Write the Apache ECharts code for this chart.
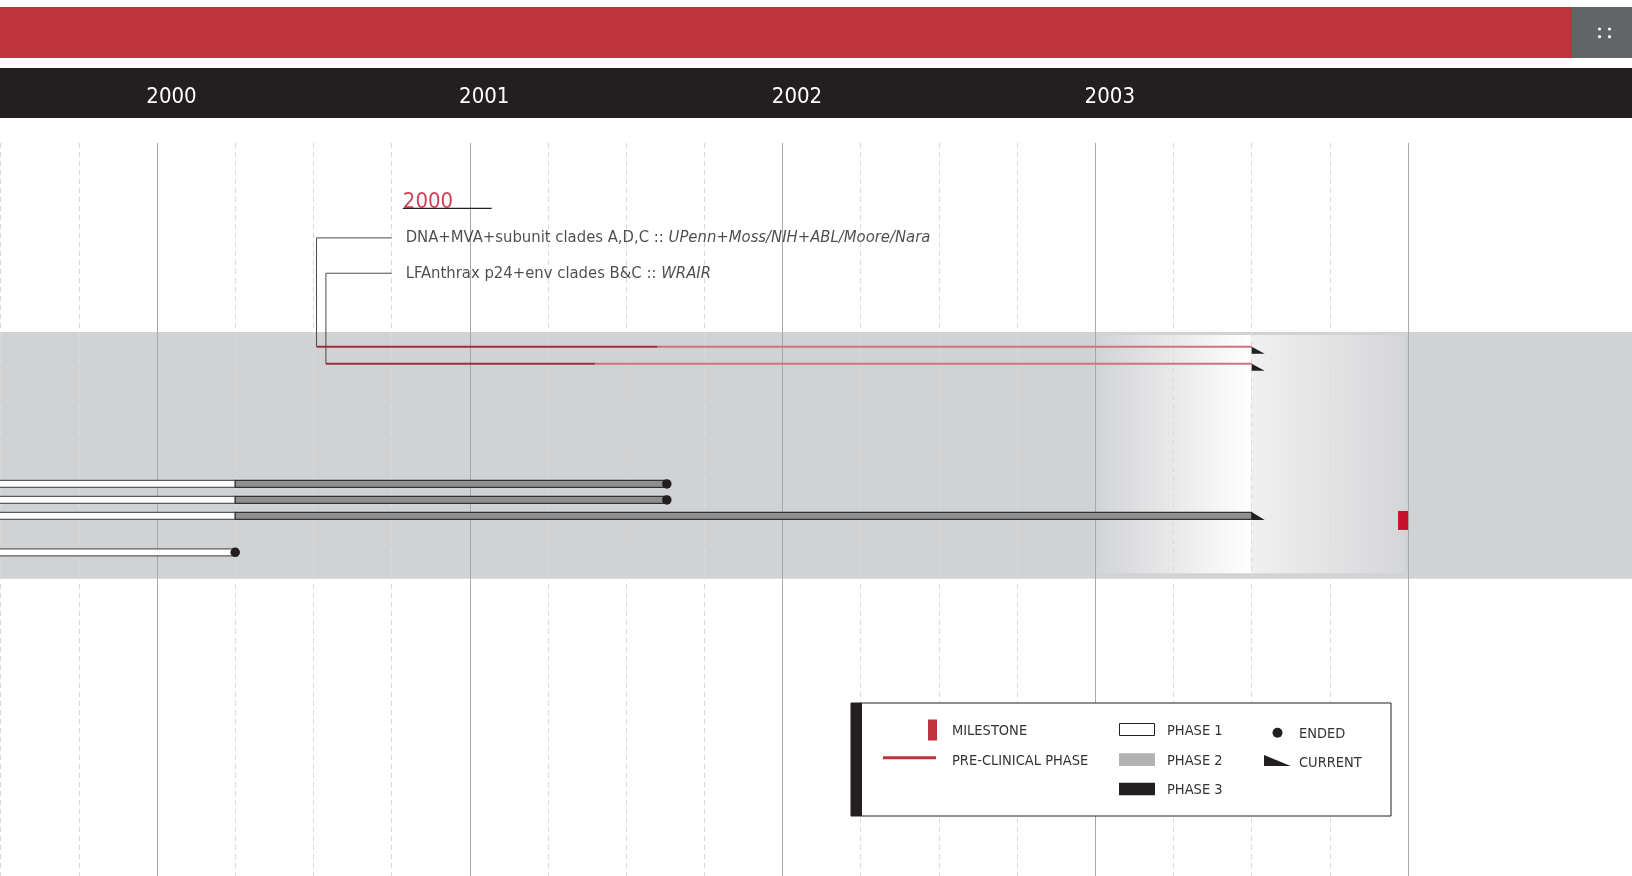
<!DOCTYPE html>
<html>
<head>
<meta charset="utf-8">
<style>
html, body { margin: 0; padding: 0; background: #ffffff; }
#chart-container { width: 1632px; height: 876px; }
</style>
<script src="https://cdn.jsdelivr.net/npm/echarts@6/dist/echarts.min.js"></script>
</head>
<body>
<div id="chart-container"></div>
<script>
// timeline data (x = decimal year, y = lane position, 1 lane = 16px)
var xMin = 1999.498;
var xMax = 2004.716;
var yearTicks = [2000, 2001, 2002, 2003];
var yearLines = [2000, 2001, 2002, 2003, 2004];
var quarterLines = [1999.5, 1999.75, 2000.25, 2000.5, 2000.75, 2001.25, 2001.5, 2001.75,
	2002.25, 2002.5, 2002.75, 2003.25, 2003.5, 2003.75];

var groupYear = '2000';
var groupRow = 3.68;
var underlineRow = 4.08;
var labelX = 2000.795;
var leaderX = 2000.75;
var headingEnd = 2001.07;

// pre-clinical lines
var preNames = ['DNA+MVA+subunit clades A,D,C', 'LFAnthrax p24+env clades B&C'];
var preOrgs = ['UPenn+Moss/NIH+ABL/Moore/Nara', 'WRAIR'];
var labelRow = [5.93, 8.14];
var preRow = [12.73, 13.79];
var preStart = [2000.51, 2000.54];
var preLead = [2001.6, 2001.4];
var preEnd = [2003.5, 2003.5];

// clinical trials
var trialRow = [21.31, 22.31, 23.31, 25.58];
var phase1Start = [1999.25, 1999.25, 1999.25, 1999.25];
var phase1End = [2000.25, 2000.25, 2000.25, 2000.25];
var phase2End = [2001.63, 2001.63, 2003.5, null];
var trialStatus = ['ended', 'ended', 'current', 'ended'];

var milestones = [[2004, 23.59]];

var band = [11.81, 27.23];
var nowBox = [2003, 2003.5, 2003.99, 12.0, 26.89];

var NARROW = "'Liberation Sans Narrow', 'DejaVu Sans Condensed', sans-serif";
var COND = "'DejaVu Sans Condensed', 'Liberation Sans Narrow', sans-serif";

var dom = document.getElementById('chart-container');
var myChart = echarts.init(dom, null, { renderer: 'canvas' });

// bars for phase 1 / phase 2
var phase1Data = [];
var phase2Data = [];
var endDots = [];
var currentBars = [];
for (var i = 0; i < trialRow.length; i++) {
	phase1Data.push([phase1Start[i], phase1End[i], trialRow[i]]);
	var last = phase1End[i];
	if (phase2End[i] != null) {
		phase2Data.push([phase1End[i], phase2End[i], trialRow[i]]);
		last = phase2End[i];
	}
	if (trialStatus[i] === 'ended') endDots.push([last, trialRow[i]]);
	else currentBars.push([last, trialRow[i]]);
}

var preData = preRow.map(function (r, i) { return [preStart[i], preLead[i], preEnd[i], r]; });
var preArrows = preRow.map(function (r, i) { return [preEnd[i], r]; });

function barRenderer(fill, stroke) {
	return function (params, api) {
		var a = api.coord([api.value(0), api.value(2)]);
		var b = api.coord([api.value(1), api.value(2)]);
		var h = 7;
		return {
			type: 'rect',
			shape: { x: a[0], y: a[1] - h / 2, width: b[0] - a[0], height: h },
			style: { fill: fill, stroke: stroke, lineWidth: 1.2 }
		};
	};
}

function preRenderer(params, api) {
	var y = api.value(3);
	var a = api.coord([api.value(0), y]);
	var m = api.coord([api.value(1), y]);
	var b = api.coord([api.value(2), y]);
	return {
		type: 'group',
		children: [
			{ type: 'line', shape: { x1: m[0], y1: m[1], x2: b[0], y2: b[1] }, style: { stroke: '#d4707f', lineWidth: 2 } },
			{ type: 'line', shape: { x1: a[0], y1: a[1], x2: m[0], y2: m[1] }, style: { stroke: '#9c2f45', lineWidth: 2 } }
		]
	};
}

var arrowPath = 'path://M0,0L0,8L13,8Z';

var gridLineData = yearLines.map(function (v) {
	return { xAxis: v, lineStyle: { color: '#a6a8ab', width: 1, type: 'solid' } };
}).concat(quarterLines.map(function (v) {
	return { xAxis: v, lineStyle: { color: '#dadada', width: 1, type: [5, 4] } };
}));

var series = [
	{
		name: 'band',
		type: 'line',
		data: [],
		z: 1,
		silent: true,
		markArea: {
			silent: true,
			itemStyle: { color: '#d1d2d4', opacity: 1 },
			data: [[{ xAxis: xMin, yAxis: band[0] }, { xAxis: xMax, yAxis: band[1] }]]
		}
	},
	{
		name: 'now',
		type: 'line',
		data: [],
		z: 2,
		silent: true,
		markArea: {
			silent: true,
			data: [
				[{ xAxis: nowBox[0], yAxis: nowBox[3], itemStyle: { opacity: 1, color: new echarts.graphic.LinearGradient(0, 0, 1, 0, [{ offset: 0, color: '#d2d3d5' }, { offset: 1, color: '#ffffff' }]) } },
					{ xAxis: nowBox[1], yAxis: nowBox[4] }],
				[{ xAxis: nowBox[1], yAxis: nowBox[3], itemStyle: { opacity: 1, color: new echarts.graphic.LinearGradient(0, 0, 1, 0, [{ offset: 0, color: '#f0f0f0' }, { offset: 1, color: '#d5d6d8' }]) } },
					{ xAxis: nowBox[2], yAxis: nowBox[4] }]
			]
		}
	},
	{
		name: 'grid',
		type: 'line',
		data: [],
		z: 3,
		silent: true,
		markLine: {
			silent: true,
			symbol: ['none', 'none'],
			label: { show: false },
			data: gridLineData
		}
	},
	{
		name: 'pre-clinical',
		type: 'custom',
		z: 5,
		silent: true,
		renderItem: preRenderer,
		encode: { x: [0, 1, 2], y: 3 },
		data: preData
	},
	{
		name: 'phase 1',
		type: 'custom',
		z: 5,
		silent: true,
		clip: true,
		renderItem: barRenderer('#ffffff', '#5c5c5c'),
		encode: { x: [0, 1], y: 2 },
		data: phase1Data
	},
	{
		name: 'phase 2',
		type: 'custom',
		z: 5,
		silent: true,
		clip: true,
		renderItem: barRenderer('#8e8f91', '#333333'),
		encode: { x: [0, 1], y: 2 },
		data: phase2Data
	},
	{
		name: 'ended',
		type: 'scatter',
		z: 7,
		silent: true,
		symbol: 'circle',
		symbolSize: 9.5,
		itemStyle: { color: '#231f20', opacity: 1 },
		data: endDots
	},
	{
		name: 'current',
		type: 'scatter',
		z: 7,
		silent: true,
		symbol: arrowPath,
		symbolSize: [13, 8],
		symbolKeepAspect: false,
		symbolOffset: [6.5, 0],
		itemStyle: { color: '#231f20', opacity: 1 },
		data: currentBars
	},
	{
		name: 'current pre',
		type: 'scatter',
		z: 7,
		silent: true,
		symbol: arrowPath,
		symbolSize: [13, 7],
		symbolKeepAspect: false,
		symbolOffset: [6.5, 3.5],
		itemStyle: { color: '#231f20', opacity: 1 },
		data: preArrows
	},
	{
		name: 'milestone',
		type: 'scatter',
		z: 7,
		silent: true,
		symbol: 'rect',
		symbolSize: [10, 19],
		symbolOffset: [-5, 0],
		itemStyle: { color: '#c8102e', opacity: 1 },
		data: milestones
	}
];

// leader lines from the labels to the pre-clinical lines
preRow.forEach(function (r, i) {
	series.push({
		type: 'line',
		z: 6,
		silent: true,
		showSymbol: false,
		lineStyle: { color: '#4a4a4a', width: 1 },
		data: [[leaderX, labelRow[i]], [preStart[i], labelRow[i]], [preStart[i], r]]
	});
});

// group heading + underline
series.push({
	type: 'line',
	z: 6,
	silent: true,
	showSymbol: false,
	lineStyle: { color: '#231f20', width: 1.3 },
	data: [[labelX - 0.009, underlineRow], [headingEnd, underlineRow]]
});
series.push({
	type: 'scatter',
	z: 8,
	silent: true,
	symbolSize: 0,
	data: [[labelX - 0.009, groupRow]],
	label: {
		show: true,
		position: 'right',
		distance: 0,
		formatter: groupYear,
		color: '#c8102e',
		fontFamily: NARROW,
		fontSize: 22
	}
});
series.push({
	type: 'scatter',
	z: 8,
	silent: true,
	symbolSize: 0,
	data: preNames.map(function (n, i) { return { name: n, value: [labelX, labelRow[i]] }; }),
	label: {
		show: true,
		position: 'right',
		distance: 0,
		formatter: function (p) {
			return '{n|' + p.name + ' :: }{i|' + preOrgs[p.dataIndex] + '}';
		},
		rich: {
			n: { fontFamily: COND, fontSize: 16.5, color: '#231f20' },
			i: { fontFamily: COND, fontSize: 16.5, fontStyle: 'italic', color: '#231f20' }
		}
	}
});

// legend box
var legendText = { fill: '#333333', fontFamily: NARROW, fontSize: 14.5, verticalAlign: 'middle' };
function ltext(x, y, t) {
	return { type: 'text', x: x, y: y + 1.5, z: 100, style: Object.assign({ text: t }, legendText) };
}

var option = {
	animation: false,
	backgroundColor: '#ffffff',
	grid: { left: 0, right: 0, top: 143, bottom: 0 },
	xAxis: {
		type: 'value',
		position: 'top',
		min: xMin,
		max: xMax,
		z: 10,
		axisLine: { show: false },
		axisTick: { show: false },
		splitLine: { show: false },
		axisLabel: {
			customValues: yearTicks,
			formatter: function (v) { return String(v); },
			color: '#ffffff',
			fontFamily: NARROW,
			fontSize: 22,
			margin: 35,
			align: 'center',
			padding: [0, 0, 0, 29]
		}
	},
	yAxis: {
		type: 'value',
		inverse: true,
		min: 0,
		max: 45.8125,
		show: false
	},
	graphic: [
		{ type: 'rect', z: 1, shape: { x: 0, y: 7, width: 1572, height: 51 }, style: { fill: '#c1323f' } },
		{ type: 'rect', z: 1, shape: { x: 1572, y: 7, width: 60, height: 51 }, style: { fill: '#636466' } },
		{ type: 'circle', z: 2, shape: { cx: 1599.5, cy: 29, r: 1.6 }, style: { fill: '#ffffff' } },
		{ type: 'circle', z: 2, shape: { cx: 1609.5, cy: 29, r: 1.6 }, style: { fill: '#ffffff' } },
		{ type: 'circle', z: 2, shape: { cx: 1599.5, cy: 36.7, r: 1.6 }, style: { fill: '#ffffff' } },
		{ type: 'circle', z: 2, shape: { cx: 1609.5, cy: 36.7, r: 1.6 }, style: { fill: '#ffffff' } },
		{ type: 'rect', z: 1, shape: { x: 0, y: 68, width: 1632, height: 50 }, style: { fill: '#231f20' } },

		{ type: 'rect', z: 100, shape: { x: 851, y: 703, width: 540, height: 113 }, style: { fill: '#ffffff', stroke: '#231f20', lineWidth: 1 } },
		{ type: 'rect', z: 101, shape: { x: 851, y: 703, width: 11, height: 113 }, style: { fill: '#231f20' } },
		{ type: 'rect', z: 101, shape: { x: 928, y: 719.5, width: 9, height: 21 }, style: { fill: '#c1323f' } },
		{ type: 'line', z: 101, shape: { x1: 883, y1: 757.7, x2: 936, y2: 757.7 }, style: { stroke: '#c1323f', lineWidth: 3 } },
		ltext(952, 730, 'MILESTONE'),
		ltext(952, 759.3, 'PRE-CLINICAL PHASE'),
		{ type: 'rect', z: 101, shape: { x: 1119.5, y: 723.5, width: 35, height: 12 }, style: { fill: '#ffffff', stroke: '#231f20', lineWidth: 1 } },
		{ type: 'rect', z: 101, shape: { x: 1119, y: 753.3, width: 36, height: 12.7 }, style: { fill: '#b1b2b4' } },
		{ type: 'rect', z: 101, shape: { x: 1119, y: 782.7, width: 36, height: 12.6 }, style: { fill: '#231f20' } },
		ltext(1167, 730, 'PHASE 1'),
		ltext(1167, 759.3, 'PHASE 2'),
		ltext(1167, 788.7, 'PHASE 3'),
		{ type: 'circle', z: 101, shape: { cx: 1277.5, cy: 732.7, r: 5 }, style: { fill: '#231f20' } },
		{ type: 'polygon', z: 101, shape: { points: [[1264, 755], [1264, 766], [1290.7, 766]] }, style: { fill: '#231f20' } },
		ltext(1299, 732.3, 'ENDED'),
		ltext(1299, 761.7, 'CURRENT')
	],
	series: series
};

myChart.setOption(option);

window.addEventListener('resize', myChart.resize);
</script>
</body>
</html>
